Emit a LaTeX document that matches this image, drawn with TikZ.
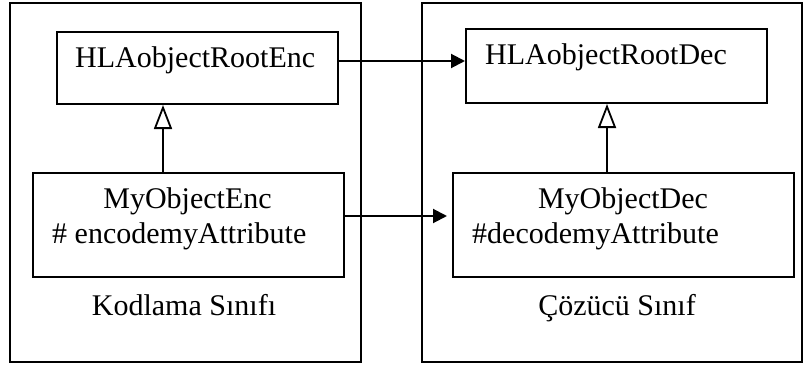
\documentclass[tikz,border=0pt]{standalone}
\usepackage{fontspec}
\setmainfont{Liberation Serif}
\usetikzlibrary{arrows.meta}
\begin{document}
\begin{tikzpicture}[x=1pt,y=-1pt,
  frame/.style={draw,line width=2pt,inner sep=0pt,anchor=north west},
  classbox/.style={draw,line width=2pt,inner sep=0pt,anchor=north west},
  txt/.style={inner sep=0pt,anchor=base west,font=\fontsize{30}{36}\selectfont},
  ctxt/.style={inner sep=0pt,anchor=base,font=\fontsize{30}{36}\selectfont},
  inherit/.style={line width=1.8pt,-{Triangle[open,length=24pt,width=18pt,line width=1.8pt]}},
  assoc/.style={line width=2pt,-{Triangle[length=14pt,width=14pt]}}]
\useasboundingbox (0,0) rectangle (804,369);

% packages
\node[frame,minimum width=351pt,minimum height=359pt] (encpkg) at (9,2) {};
\node[frame,minimum width=380pt,minimum height=359pt] (decpkg) at (421,2) {};

% classes
\node[classbox,minimum width=281pt,minimum height=72pt] (rootenc) at (56,31) {};
\node[classbox,minimum width=311pt,minimum height=104pt] (objenc) at (32,172) {};
\node[classbox,minimum width=301pt,minimum height=74pt] (rootdec) at (465,28) {};
\node[classbox,minimum width=341pt,minimum height=104pt] (objdec) at (452,172) {};

% labels
\node[txt] (trootenc) at (75,68) {HLAobjectRootEnc};
\node[txt] (trootdec) at (485,65) {HLAobjectRootDec};
\node[ctxt] (tobjenc) at (187.5,208) {MyObjectEnc};
\node[txt] (tattenc) at (52,243) {\# encodemyAttribute};
\node[ctxt] (tobjdec) at (623,208) {MyObjectDec};
\node[txt] (tattdec) at (472,243) {\#decodemyAttribute};
\node[ctxt] (tencpkg) at (184,315) {Kodlama Sınıfı};
\node[ctxt] (tdecpkg) at (617,315) {Çözücü Sınıf};

% inheritance
\coordinate (xenc) at (163,0);
\coordinate (xdec) at (607,0);
\draw[inherit] (objenc.north -| xenc) -- (rootenc.south -| xenc);
\draw[inherit] (objdec.north -| xdec) -- (rootdec.south -| xdec);

% encoder to decoder
\coordinate (yroot) at (0,61);
\coordinate (yobj) at (0,216);
\draw[assoc] (rootenc.east |- yroot) -- (rootdec.west |- yroot);
\draw[assoc,shorten >=5pt] (objenc.east |- yobj) -- (objdec.west |- yobj);
\end{tikzpicture}
\end{document}
